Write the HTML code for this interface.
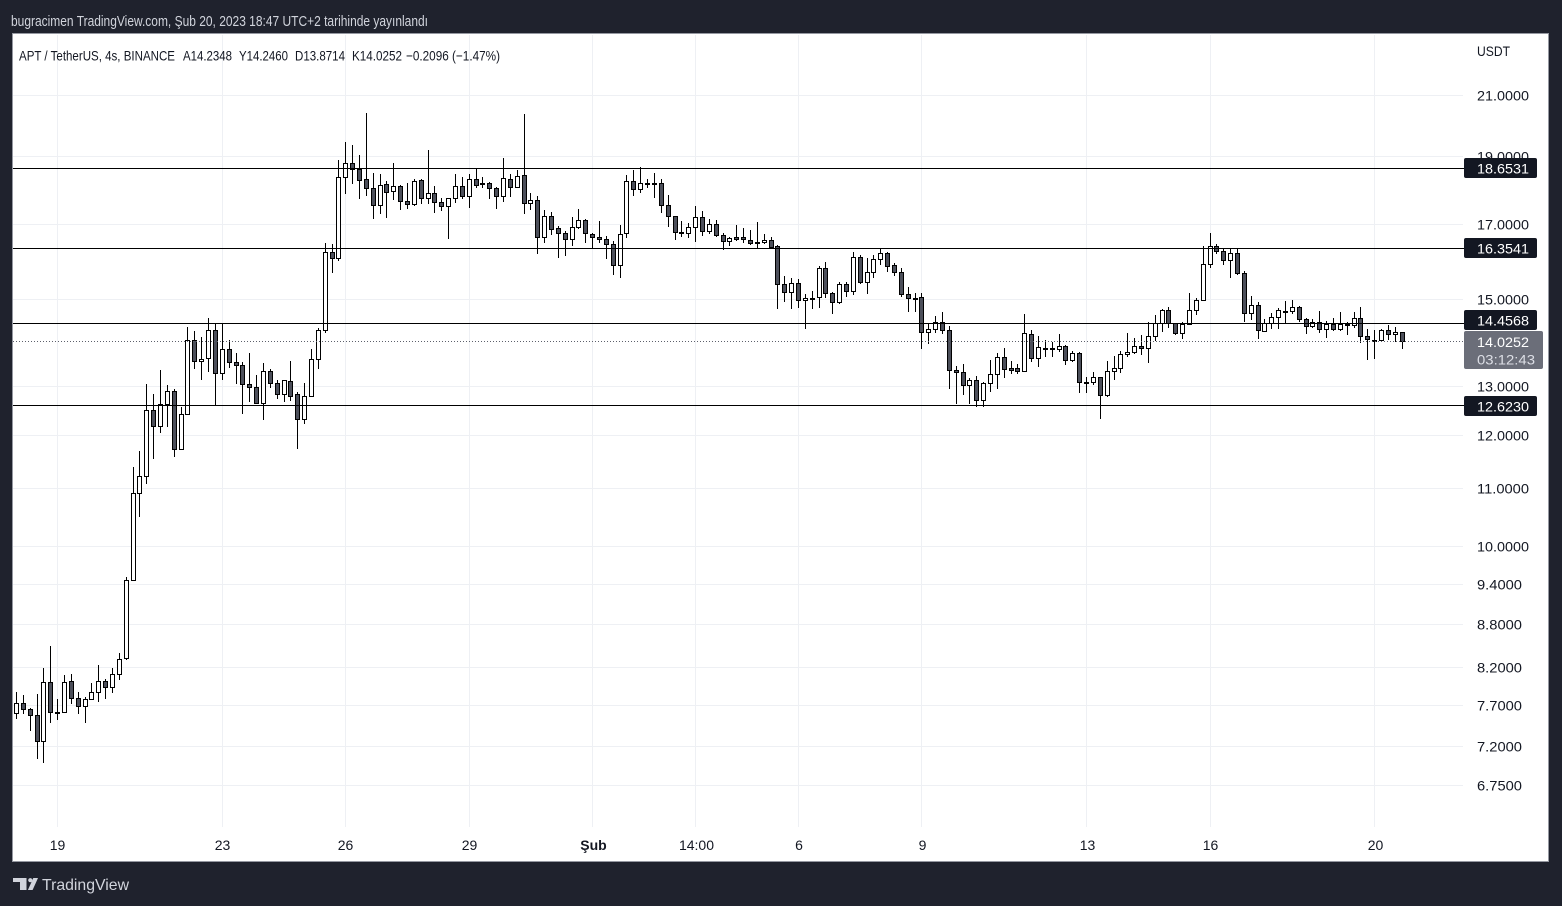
<!DOCTYPE html>
<html><head><meta charset="utf-8">
<style>
html,body{margin:0;padding:0;background:#1f222d;width:1562px;height:906px;overflow:hidden;position:relative}
#chart{position:absolute;left:12px;top:33px;width:1537px;height:829px;box-sizing:border-box;border:1px solid #9598a1;background:#fff}
svg{position:absolute;left:0;top:0}
#g1{z-index:1}
#cs{position:absolute;left:13px;top:0;height:906px;display:flex;z-index:2}
#cs i{position:relative;flex:0 0 6.864px;width:6.864px;height:906px;display:block}
#cs i.g{background:linear-gradient(#eef0f4,#eef0f4) 3px 35px/1px 792px no-repeat}
#cs i::before{content:"";position:absolute;left:3px;width:1px;top:calc(var(--h)*1px);height:calc((var(--l) - var(--h) + 1)*1px);background:#000}
#cs i::after{content:"";position:absolute;left:1px;width:5px;box-sizing:border-box;border:1px solid #000;top:calc(var(--t)*1px);height:calc((var(--b) - var(--t) + 1)*1px);background:#4c4f5a}
#cs i.u::after{background:#fff}
#g2{z-index:3}
text{font-family:"Liberation Sans",sans-serif}
</style></head><body>
<div id="chart"></div>
<svg id="g1" width="1562" height="906">
<path d="M13 95.5H1463M13 156.5H1463M13 224.5H1463M13 299.5H1463M13 386.5H1463M13 435.5H1463M13 488.5H1463M13 546.5H1463M13 584.5H1463M13 624.5H1463M13 667.5H1463M13 705.5H1463M13 746.5H1463M13 785.5H1463" stroke="#eef0f4" stroke-width="1" fill="none"/>
</svg>
<div id="cs">
<i class="u" style="--h:692;--t:703;--b:713;--l:718"></i>
<i style="--h:695;--t:703;--b:709;--l:713"></i>
<i style="--h:708;--t:709;--b:715;--l:730"></i>
<i style="--h:694;--t:715;--b:741;--l:758"></i>
<i class="u" style="--h:668;--t:682;--b:741;--l:762"></i>
<i style="--h:646;--t:682;--b:712;--l:722"></i>
<i class="g" style="--h:699;--t:712;--b:712;--l:719"></i>
<i class="u" style="--h:675;--t:682;--b:712;--l:712"></i>
<i style="--h:674;--t:681;--b:698;--l:703"></i>
<i style="--h:692;--t:698;--b:706;--l:713"></i>
<i class="u" style="--h:697;--t:699;--b:706;--l:722"></i>
<i class="u" style="--h:683;--t:692;--b:699;--l:699"></i>
<i class="u" style="--h:665;--t:681;--b:692;--l:701"></i>
<i style="--h:679;--t:681;--b:687;--l:698"></i>
<i class="u" style="--h:668;--t:674;--b:687;--l:692"></i>
<i class="u" style="--h:653;--t:659;--b:674;--l:679"></i>
<i class="u" style="--h:577;--t:580;--b:658;--l:659"></i>
<i class="u" style="--h:467;--t:493;--b:580;--l:580"></i>
<i class="u" style="--h:451;--t:476;--b:493;--l:516"></i>
<i class="u" style="--h:384;--t:410;--b:476;--l:483"></i>
<i style="--h:394;--t:410;--b:426;--l:458"></i>
<i class="u" style="--h:370;--t:404;--b:426;--l:432"></i>
<i class="u" style="--h:385;--t:391;--b:404;--l:426"></i>
<i style="--h:389;--t:391;--b:449;--l:456"></i>
<i class="u" style="--h:407;--t:414;--b:449;--l:449"></i>
<i class="u" style="--h:327;--t:340;--b:414;--l:414"></i>
<i style="--h:331;--t:340;--b:361;--l:368"></i>
<i class="u" style="--h:337;--t:359;--b:361;--l:379"></i>
<i class="u" style="--h:318;--t:330;--b:358;--l:371"></i>
<i style="--h:323;--t:330;--b:373;--l:405"></i>
<i class="u g" style="--h:324;--t:349;--b:373;--l:379"></i>
<i style="--h:340;--t:349;--b:362;--l:367"></i>
<i style="--h:353;--t:362;--b:365;--l:383"></i>
<i style="--h:362;--t:365;--b:384;--l:413"></i>
<i style="--h:353;--t:384;--b:387;--l:401"></i>
<i style="--h:375;--t:387;--b:403;--l:403"></i>
<i class="u" style="--h:363;--t:371;--b:403;--l:419"></i>
<i style="--h:369;--t:371;--b:383;--l:387"></i>
<i style="--h:380;--t:383;--b:394;--l:398"></i>
<i class="u" style="--h:380;--t:380;--b:394;--l:401"></i>
<i style="--h:361;--t:381;--b:396;--l:400"></i>
<i style="--h:392;--t:394;--b:419;--l:448"></i>
<i class="u" style="--h:383;--t:396;--b:419;--l:423"></i>
<i class="u" style="--h:349;--t:359;--b:396;--l:396"></i>
<i class="u" style="--h:328;--t:330;--b:359;--l:368"></i>
<i class="u" style="--h:243;--t:252;--b:330;--l:332"></i>
<i style="--h:244;--t:252;--b:258;--l:272"></i>
<i class="u" style="--h:160;--t:177;--b:258;--l:260"></i>
<i class="u g" style="--h:142;--t:163;--b:177;--l:193"></i>
<i style="--h:145;--t:163;--b:169;--l:183"></i>
<i style="--h:155;--t:169;--b:180;--l:198"></i>
<i style="--h:113;--t:179;--b:188;--l:195"></i>
<i style="--h:173;--t:188;--b:205;--l:218"></i>
<i class="u" style="--h:174;--t:185;--b:205;--l:213"></i>
<i style="--h:181;--t:184;--b:192;--l:217"></i>
<i class="u" style="--h:163;--t:186;--b:191;--l:199"></i>
<i style="--h:185;--t:186;--b:201;--l:209"></i>
<i style="--h:183;--t:201;--b:204;--l:208"></i>
<i class="u" style="--h:179;--t:181;--b:204;--l:205"></i>
<i style="--h:179;--t:180;--b:198;--l:203"></i>
<i class="u" style="--h:150;--t:193;--b:198;--l:203"></i>
<i style="--h:186;--t:193;--b:202;--l:212"></i>
<i style="--h:198;--t:202;--b:206;--l:210"></i>
<i class="u" style="--h:198;--t:198;--b:206;--l:238"></i>
<i class="u" style="--h:174;--t:186;--b:198;--l:202"></i>
<i style="--h:177;--t:186;--b:196;--l:198"></i>
<i class="u g" style="--h:174;--t:179;--b:196;--l:207"></i>
<i style="--h:168;--t:179;--b:185;--l:187"></i>
<i style="--h:177;--t:183;--b:184;--l:187"></i>
<i style="--h:182;--t:183;--b:188;--l:198"></i>
<i style="--h:187;--t:188;--b:196;--l:208"></i>
<i class="u" style="--h:158;--t:178;--b:196;--l:201"></i>
<i style="--h:174;--t:179;--b:187;--l:196"></i>
<i class="u" style="--h:170;--t:176;--b:187;--l:187"></i>
<i style="--h:114;--t:175;--b:203;--l:213"></i>
<i class="u" style="--h:193;--t:200;--b:203;--l:209"></i>
<i style="--h:196;--t:200;--b:237;--l:253"></i>
<i class="u" style="--h:210;--t:216;--b:237;--l:242"></i>
<i style="--h:212;--t:216;--b:229;--l:234"></i>
<i style="--h:226;--t:228;--b:233;--l:257"></i>
<i style="--h:231;--t:233;--b:239;--l:255"></i>
<i class="u" style="--h:217;--t:227;--b:239;--l:245"></i>
<i class="u" style="--h:209;--t:220;--b:227;--l:228"></i>
<i style="--h:219;--t:220;--b:233;--l:242"></i>
<i class="g" style="--h:233;--t:234;--b:237;--l:248"></i>
<i style="--h:221;--t:237;--b:239;--l:242"></i>
<i style="--h:236;--t:239;--b:244;--l:258"></i>
<i style="--h:241;--t:244;--b:265;--l:274"></i>
<i class="u" style="--h:225;--t:234;--b:265;--l:277"></i>
<i class="u" style="--h:175;--t:181;--b:233;--l:237"></i>
<i style="--h:170;--t:181;--b:189;--l:195"></i>
<i class="u" style="--h:167;--t:183;--b:189;--l:192"></i>
<i style="--h:179;--t:183;--b:183;--l:187"></i>
<i style="--h:173;--t:183;--b:183;--l:197"></i>
<i style="--h:179;--t:183;--b:205;--l:212"></i>
<i style="--h:195;--t:205;--b:216;--l:226"></i>
<i style="--h:216;--t:216;--b:232;--l:239"></i>
<i style="--h:221;--t:232;--b:233;--l:236"></i>
<i class="u" style="--h:223;--t:227;--b:233;--l:237"></i>
<i class="u g" style="--h:206;--t:217;--b:227;--l:241"></i>
<i style="--h:211;--t:217;--b:231;--l:235"></i>
<i class="u" style="--h:219;--t:224;--b:231;--l:233"></i>
<i style="--h:220;--t:224;--b:235;--l:236"></i>
<i style="--h:233;--t:235;--b:241;--l:249"></i>
<i class="u" style="--h:237;--t:238;--b:241;--l:245"></i>
<i style="--h:225;--t:237;--b:239;--l:240"></i>
<i style="--h:228;--t:237;--b:239;--l:242"></i>
<i style="--h:230;--t:240;--b:243;--l:244"></i>
<i style="--h:222;--t:242;--b:243;--l:248"></i>
<i class="u" style="--h:234;--t:240;--b:242;--l:243"></i>
<i style="--h:237;--t:240;--b:247;--l:248"></i>
<i style="--h:245;--t:246;--b:284;--l:308"></i>
<i style="--h:276;--t:284;--b:292;--l:301"></i>
<i class="u" style="--h:278;--t:283;--b:292;--l:308"></i>
<i class="g" style="--h:279;--t:283;--b:300;--l:307"></i>
<i class="u" style="--h:294;--t:298;--b:300;--l:328"></i>
<i style="--h:291;--t:298;--b:298;--l:308"></i>
<i class="u" style="--h:266;--t:268;--b:297;--l:307"></i>
<i style="--h:262;--t:268;--b:293;--l:297"></i>
<i style="--h:292;--t:293;--b:302;--l:313"></i>
<i class="u" style="--h:282;--t:284;--b:302;--l:303"></i>
<i style="--h:282;--t:284;--b:291;--l:296"></i>
<i class="u" style="--h:252;--t:257;--b:291;--l:294"></i>
<i style="--h:255;--t:257;--b:282;--l:283"></i>
<i class="u" style="--h:258;--t:272;--b:282;--l:293"></i>
<i class="u" style="--h:255;--t:259;--b:272;--l:277"></i>
<i class="u" style="--h:249;--t:253;--b:259;--l:264"></i>
<i style="--h:252;--t:253;--b:266;--l:271"></i>
<i style="--h:263;--t:265;--b:272;--l:275"></i>
<i style="--h:268;--t:272;--b:294;--l:296"></i>
<i style="--h:287;--t:294;--b:298;--l:311"></i>
<i style="--h:293;--t:298;--b:298;--l:311"></i>
<i class="g" style="--h:293;--t:297;--b:332;--l:348"></i>
<i class="u" style="--h:324;--t:329;--b:332;--l:343"></i>
<i class="u" style="--h:316;--t:322;--b:329;--l:332"></i>
<i style="--h:312;--t:322;--b:330;--l:333"></i>
<i style="--h:326;--t:330;--b:370;--l:388"></i>
<i style="--h:366;--t:370;--b:372;--l:403"></i>
<i style="--h:364;--t:372;--b:385;--l:394"></i>
<i class="u" style="--h:378;--t:380;--b:385;--l:403"></i>
<i style="--h:376;--t:380;--b:400;--l:406"></i>
<i class="u" style="--h:382;--t:383;--b:400;--l:406"></i>
<i class="u" style="--h:360;--t:374;--b:383;--l:391"></i>
<i class="u" style="--h:353;--t:357;--b:374;--l:388"></i>
<i style="--h:348;--t:357;--b:369;--l:377"></i>
<i style="--h:361;--t:368;--b:370;--l:373"></i>
<i style="--h:364;--t:368;--b:371;--l:373"></i>
<i class="u" style="--h:314;--t:333;--b:371;--l:371"></i>
<i style="--h:330;--t:334;--b:358;--l:361"></i>
<i class="u" style="--h:336;--t:347;--b:358;--l:366"></i>
<i style="--h:340;--t:348;--b:349;--l:356"></i>
<i style="--h:342;--t:348;--b:349;--l:356"></i>
<i class="u" style="--h:334;--t:346;--b:349;--l:351"></i>
<i style="--h:345;--t:346;--b:360;--l:364"></i>
<i class="u" style="--h:351;--t:353;--b:360;--l:361"></i>
<i style="--h:352;--t:353;--b:382;--l:392"></i>
<i class="g" style="--h:377;--t:382;--b:382;--l:392"></i>
<i class="u" style="--h:372;--t:377;--b:382;--l:384"></i>
<i style="--h:377;--t:377;--b:395;--l:418"></i>
<i class="u" style="--h:361;--t:371;--b:395;--l:396"></i>
<i class="u" style="--h:356;--t:368;--b:371;--l:379"></i>
<i class="u" style="--h:351;--t:354;--b:368;--l:372"></i>
<i class="u" style="--h:333;--t:352;--b:354;--l:356"></i>
<i class="u" style="--h:338;--t:346;--b:352;--l:353"></i>
<i style="--h:335;--t:346;--b:348;--l:354"></i>
<i class="u" style="--h:322;--t:336;--b:348;--l:362"></i>
<i class="u" style="--h:315;--t:323;--b:336;--l:340"></i>
<i class="u" style="--h:309;--t:310;--b:323;--l:331"></i>
<i style="--h:307;--t:310;--b:323;--l:327"></i>
<i style="--h:323;--t:323;--b:333;--l:334"></i>
<i class="u" style="--h:322;--t:324;--b:333;--l:338"></i>
<i class="u" style="--h:293;--t:310;--b:324;--l:324"></i>
<i class="u" style="--h:298;--t:300;--b:310;--l:314"></i>
<i class="u" style="--h:246;--t:264;--b:300;--l:300"></i>
<i class="u g" style="--h:233;--t:246;--b:264;--l:267"></i>
<i style="--h:244;--t:246;--b:251;--l:253"></i>
<i style="--h:249;--t:251;--b:260;--l:264"></i>
<i class="u" style="--h:248;--t:253;--b:260;--l:277"></i>
<i style="--h:248;--t:253;--b:273;--l:274"></i>
<i style="--h:271;--t:273;--b:313;--l:321"></i>
<i class="u" style="--h:296;--t:305;--b:313;--l:319"></i>
<i style="--h:302;--t:305;--b:330;--l:338"></i>
<i class="u" style="--h:319;--t:323;--b:331;--l:331"></i>
<i class="u" style="--h:313;--t:317;--b:323;--l:328"></i>
<i class="u" style="--h:308;--t:310;--b:317;--l:328"></i>
<i style="--h:301;--t:311;--b:311;--l:323"></i>
<i class="u" style="--h:300;--t:307;--b:311;--l:313"></i>
<i style="--h:306;--t:307;--b:319;--l:321"></i>
<i style="--h:318;--t:319;--b:326;--l:333"></i>
<i class="u" style="--h:319;--t:322;--b:326;--l:327"></i>
<i style="--h:311;--t:322;--b:329;--l:332"></i>
<i class="u" style="--h:321;--t:324;--b:329;--l:337"></i>
<i style="--h:318;--t:324;--b:329;--l:330"></i>
<i class="u" style="--h:312;--t:324;--b:329;--l:330"></i>
<i style="--h:322;--t:324;--b:325;--l:334"></i>
<i class="u" style="--h:312;--t:318;--b:325;--l:327"></i>
<i style="--h:307;--t:318;--b:336;--l:342"></i>
<i style="--h:329;--t:336;--b:339;--l:359"></i>
<i class="g" style="--h:330;--t:340;--b:340;--l:358"></i>
<i class="u" style="--h:329;--t:330;--b:340;--l:340"></i>
<i style="--h:325;--t:330;--b:334;--l:339"></i>
<i class="u" style="--h:327;--t:332;--b:334;--l:341"></i>
<i style="--h:332;--t:332;--b:341;--l:348"></i>
</div>
<svg id="g2" width="1562" height="906">
<!-- title -->
<text x="11" y="26" font-size="15" fill="#d1d4dc" textLength="417" lengthAdjust="spacingAndGlyphs">bugracimen TradingView.com, Şub 20, 2023 18:47 UTC+2 tarihinde yayınlandı</text>
<!-- legend -->
<g font-size="14" fill="#131722">
<text x="19" y="60.5" textLength="156" lengthAdjust="spacingAndGlyphs">APT / TetherUS, 4s, BINANCE</text>
<text x="183" y="60.5" textLength="49" lengthAdjust="spacingAndGlyphs">A14.2348</text>
<text x="239" y="60.5" textLength="49" lengthAdjust="spacingAndGlyphs">Y14.2460</text>
<text x="295" y="60.5" textLength="50" lengthAdjust="spacingAndGlyphs">D13.8714</text>
<text x="352" y="60.5" textLength="50" lengthAdjust="spacingAndGlyphs">K14.0252</text>
<text x="406" y="60.5" textLength="94" lengthAdjust="spacingAndGlyphs">−0.2096 (−1.47%)</text>
</g>
<!-- horizontal levels -->
<path d="M13 168.5H1464M13 248.5H1464M13 323.5H1464M13 405.5H1464" stroke="#000" stroke-width="1" fill="none"/>
<path d="M13 341.5H1464" stroke="#5d606b" stroke-width="1" stroke-dasharray="1 2" fill="none"/>
<!-- price axis labels -->
<g font-size="14" fill="#131722">
<text x="1477" y="56" textLength="33" lengthAdjust="spacingAndGlyphs">USDT</text>
<text x="1477" y="100.5" textLength="52" lengthAdjust="spacingAndGlyphs">21.0000</text>
<text x="1477" y="161.5" textLength="52" lengthAdjust="spacingAndGlyphs">19.0000</text>
<text x="1477" y="229.5" textLength="52" lengthAdjust="spacingAndGlyphs">17.0000</text>
<text x="1477" y="304.5" textLength="52" lengthAdjust="spacingAndGlyphs">15.0000</text>
<text x="1477" y="391.5" textLength="52" lengthAdjust="spacingAndGlyphs">13.0000</text>
<text x="1477" y="440.5" textLength="52" lengthAdjust="spacingAndGlyphs">12.0000</text>
<text x="1477" y="493.5" textLength="52" lengthAdjust="spacingAndGlyphs">11.0000</text>
<text x="1477" y="551.5" textLength="52" lengthAdjust="spacingAndGlyphs">10.0000</text>
<text x="1477" y="589.5" textLength="45" lengthAdjust="spacingAndGlyphs">9.4000</text>
<text x="1477" y="629.5" textLength="45" lengthAdjust="spacingAndGlyphs">8.8000</text>
<text x="1477" y="672.5" textLength="45" lengthAdjust="spacingAndGlyphs">8.2000</text>
<text x="1477" y="710.5" textLength="45" lengthAdjust="spacingAndGlyphs">7.7000</text>
<text x="1477" y="751.5" textLength="45" lengthAdjust="spacingAndGlyphs">7.2000</text>
<text x="1477" y="790.5" textLength="45" lengthAdjust="spacingAndGlyphs">6.7500</text>
</g>
<!-- level boxes -->
<g>
<rect x="1464" y="158" width="73" height="20" rx="2" fill="#131722"/>
<rect x="1464" y="238" width="73" height="20" rx="2" fill="#131722"/>
<rect x="1464" y="310" width="73" height="20" rx="2" fill="#131722"/>
<rect x="1464" y="396" width="73" height="20" rx="2" fill="#131722"/>
<rect x="1464" y="331" width="79" height="38" rx="2" fill="#6b6e79"/>
</g>
<g font-size="14" fill="#ffffff">
<text x="1477" y="173.5" textLength="52" lengthAdjust="spacingAndGlyphs">18.6531</text>
<text x="1477" y="253.5" textLength="52" lengthAdjust="spacingAndGlyphs">16.3541</text>
<text x="1477" y="325.5" textLength="52" lengthAdjust="spacingAndGlyphs">14.4568</text>
<text x="1477" y="411.5" textLength="52" lengthAdjust="spacingAndGlyphs">12.6230</text>
<text x="1477" y="347" textLength="52" lengthAdjust="spacingAndGlyphs">14.0252</text>
<text x="1477" y="364.5" textLength="58" lengthAdjust="spacingAndGlyphs" fill="#dcdee5">03:12:43</text>
</g>
<!-- time axis -->
<g font-size="14" fill="#131722" text-anchor="middle">
<text x="57.5" y="850">19</text>
<text x="222.5" y="850">23</text>
<text x="345.5" y="850">26</text>
<text x="469.5" y="850">29</text>
<text x="593.5" y="850" font-weight="bold">Şub</text>
<text x="696.5" y="850">14:00</text>
<text x="799" y="850">6</text>
<text x="922.5" y="850">9</text>
<text x="1087.5" y="850">13</text>
<text x="1210.5" y="850">16</text>
<text x="1375.5" y="850">20</text>
</g>
<!-- footer logo -->
<g fill="#d1d4dc">
<rect x="13" y="878" width="13.5" height="4"/>
<rect x="20" y="878" width="6.5" height="12"/>
<circle cx="30.3" cy="880.2" r="2.1"/>
<polygon points="33.3,878 38,878 32.6,890 27.9,890"/>
<text x="42" y="890" font-size="16" textLength="87" lengthAdjust="spacingAndGlyphs">TradingView</text>
</g>
</svg>
</body></html>
